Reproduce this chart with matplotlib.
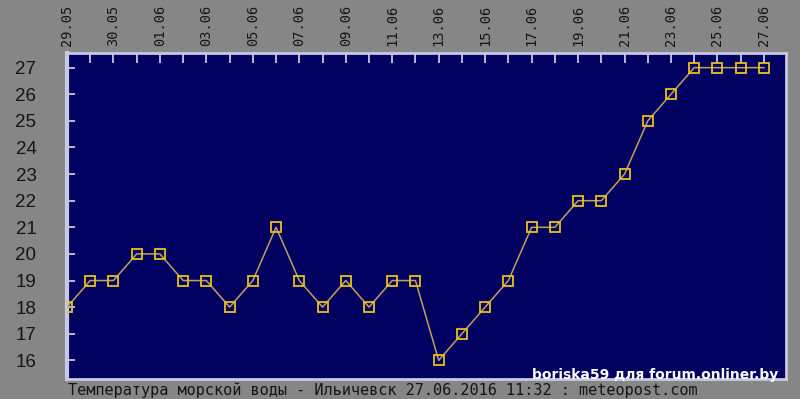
import matplotlib
matplotlib.use("Agg")
import matplotlib.pyplot as plt

temps = [18, 19, 19, 20, 20, 19, 19, 18, 19, 21, 19, 18, 19, 18, 19, 19,
         16, 17, 18, 19, 21, 21, 22, 22, 23, 25, 26, 27, 27, 27, 27]
date_labels = ["29.05", "30.05", "01.06", "03.06", "05.06", "07.06", "09.06", "11.06",
               "13.06", "15.06", "17.06", "19.06", "21.06", "23.06", "25.06", "27.06"]
y_ticks = list(range(16, 28))

bg = "#868686"
navy = "#000060"

fig = plt.figure(figsize=(8, 3.99), dpi=100, facecolor=bg)
ax = fig.add_axes([67 / 800, 20 / 399, 719 / 800, 326 / 399])
ax.set_facecolor(navy)

x = list(range(len(temps)))
ax.plot(x, temps, color="#c0a060", lw=1.1, marker="s", ms=7,
        mfc="none", mec="#e8c020", mew=1.3, zorder=3)

ax.set_xlim(0, 30.95)
ax.set_ylim(15.3, 27.55)

# x: small ticks at each point, labels every second one on top
ax.set_xticks(x, minor=True)
ax.set_xticks(x[::2])
ax.set_xticklabels(date_labels, rotation=90, family="DejaVu Sans Mono",
                   fontsize=9.8, color="#151515")
ax.xaxis.tick_top()
ax.tick_params(axis="x", which="both", direction="in", length=7,
               color="#d8d8f0", width=1.2, pad=5)

ax.set_yticks(y_ticks)
ax.set_yticklabels([str(v) for v in y_ticks], family="Liberation Sans",
                   fontsize=13.5, color="#151515")
ax.tick_params(axis="y", direction="in", length=6, color="#d8d8f0",
               width=1.2, pad=22)

for s in ax.spines.values():
    s.set_color("#c8c8e0")
    s.set_linewidth(2)
ax.spines["left"].set_linewidth(3)

fig.text(68 / 800, 9 / 399, "Температура морской воды - Ильичевск 27.06.2016 11:32 : meteopost.com",
         family="DejaVu Sans Mono", fontsize=11, color="#151515", va="center")
fig.text(778 / 800, 24 / 399, "boriska59 для forum.onliner.by",
         family="DejaVu Sans", weight="bold", fontsize=10, color="white",
         ha="right", va="center")

fig.savefig("out.png", dpi=100, facecolor=bg)
